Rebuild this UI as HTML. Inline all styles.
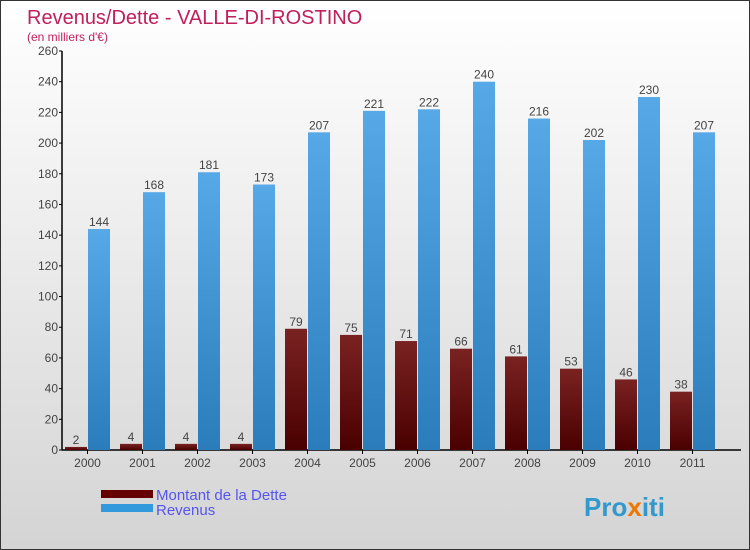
<!DOCTYPE html>
<html><head><meta charset="utf-8"><style>
body{margin:0}
#c{width:748px;height:548px;border:1px solid #333;background:linear-gradient(#ffffff,#d4d4d4);position:relative;overflow:hidden;font-family:"Liberation Sans",sans-serif}
</style></head><body>
<div id="c">
<svg id="s" width="748" height="548" style="position:absolute;left:0;top:0">
<defs>
<linearGradient id="gd" x1="0" y1="0" x2="0" y2="1"><stop offset="0" stop-color="#7a2222"/><stop offset="1" stop-color="#4a0000"/></linearGradient>
<linearGradient id="gr" x1="0" y1="0" x2="0" y2="1"><stop offset="0" stop-color="#56a8e6"/><stop offset="1" stop-color="#2a7cba"/></linearGradient>
</defs>
<text x="26" y="23" font-size="20" fill="#c0205a">Revenus/Dette - VALLE-DI-ROSTINO</text>
<text x="26" y="40" font-size="12" fill="#c0205a">(en milliers d'€)</text>
<g id="plot"></g>
<rect x="100" y="489" width="52" height="8" fill="#660000"/>
<rect x="100" y="503" width="52" height="8" fill="#3399dd"/>
<text x="155" y="499" font-size="15" fill="#5555ee">Montant de la Dette</text>
<text x="155" y="514" font-size="15" fill="#5555ee">Revenus</text>
<text x="583" y="515" font-size="26" font-weight="bold" fill="#3399cc"><tspan fill="#3399cc">Pro</tspan><tspan fill="#ee7700">x</tspan><tspan fill="#3399cc">iti</tspan></text>
</svg>
</div>
<script>
const years=["2000","2001","2002","2003","2004","2005","2006","2007","2008","2009","2010","2011"];
const dette=[2,4,4,4,79,75,71,66,61,53,46,38];
const revenus=[144,168,181,173,207,221,222,240,216,202,230,207];
const ticks=[0,20,40,60,80,100,120,140,160,180,200,220,240,260];
const NS="http://www.w3.org/2000/svg";
const g=document.getElementById('plot');
const y0=449,ppu=399/260,x0=64,step=55,bw=22;
const Y=v=>y0-v*ppu;
const X=i=>x0+i*step;
function mk(t,a){const e=document.createElementNS(NS,t);for(const k in a)e.setAttribute(k,a[k]);g.appendChild(e);return e;}
let ax=mk('line',{x1:61,y1:Y(260),x2:61,y2:y0,stroke:'#000','stroke-width':1.5});


let bx=mk('line',{x1:61,y1:y0,x2:740,y2:y0,stroke:'#000','stroke-width':1.5});


ticks.forEach(t=>{
 let l=mk('line',{x1:58,y1:Y(t),x2:61,y2:Y(t),stroke:'#000'});
 
 
 let tx=mk('text',{x:57,y:Y(t)+4,'font-size':12,'text-anchor':'end',fill:'#444'});
 tx.textContent=t;
 
 
});
years.forEach((yr,i)=>{
 const x=X(i);
 let r1=mk('rect',{x:x,y:Y(dette[i]),width:bw,height:dette[i]*ppu,fill:'url(#gd)'});
 
 
 let r2=mk('rect',{x:x+bw+1,y:Y(revenus[i]),width:bw,height:revenus[i]*ppu,fill:'url(#gr)'});
 
 
 let t1=mk('text',{x:x+bw/2,y:Y(dette[i])-3,'font-size':12,'text-anchor':'middle',fill:'#444'});
 t1.textContent=dette[i];
 
 
 let t2=mk('text',{x:x+bw*1.5+1,y:Y(revenus[i])-3,'font-size':12,'text-anchor':'middle',fill:'#444'});
 t2.textContent=revenus[i];
 
 
 let tk=mk('line',{x1:x+bw+0.5,y1:y0,x2:x+bw+0.5,y2:y0+4,stroke:'#000'});
 
 
 let xl=mk('text',{x:x+bw+0.5,y:y0+17,'font-size':12,'text-anchor':'middle',fill:'#444'});
 xl.textContent=yr;
 
 
});
</script>
</body></html>
